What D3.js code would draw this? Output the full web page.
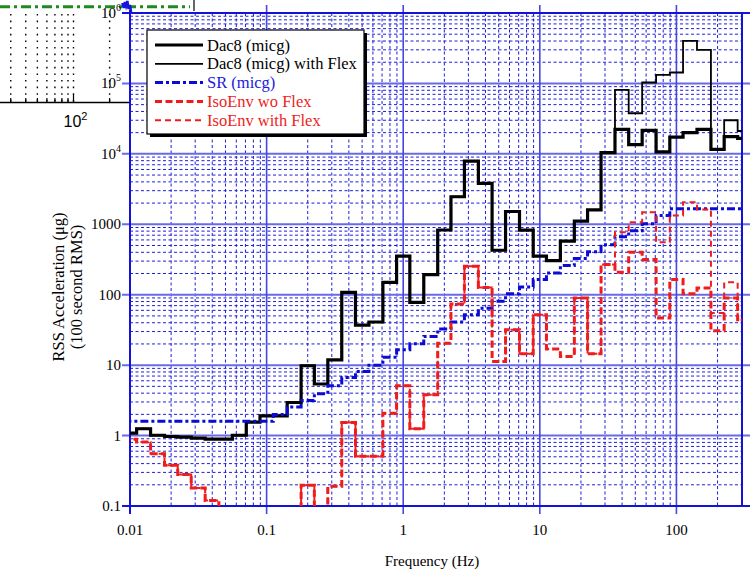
<!DOCTYPE html>
<html><head><meta charset="utf-8">
<script src="https://cdn.jsdelivr.net/npm/d3@7"></script>
<style>
html,body{margin:0;padding:0;background:#fff;}
svg{display:block;}
.serif{font-family:"Liberation Serif","Times New Roman",serif;}
</style></head>
<body><svg id="chart" width="750" height="571"></svg>
<script>
// 1/10-decade band centre frequencies (Hz)
const frequencies = [0.01,0.0125,0.016,0.02,0.025,0.0315,0.04,0.05,0.063,0.08,
  0.1,0.125,0.16,0.2,0.25,0.315,0.4,0.5,0.63,0.8,
  1,1.25,1.6,2,2.5,3.15,4,5,6.3,8,
  10,12.5,16,20,25,31.5,40,50,63,80,
  100,125,160,200,250,315];

// RSS acceleration per band (µg, 100 s RMS); 0.05 marks bands below the plot floor
const dac8 = [1.08,1.25,1.01,0.97,0.95,0.92,0.89,0.89,1.01,1.55,
  1.9,1.9,2.95,9.8,5.4,11.9,108,37,41,150,
  352,78,193,830,2460,7900,3800,428,1520,824,
  352,305,575,1107,1607,10400,22300,13500,21600,10700,
  17300,20000,22300,11600,17600,16600];
const dac8Flex = [1.08,1.25,1.01,0.97,0.95,0.92,0.89,0.89,1.01,1.55,
  1.9,1.9,2.95,9.8,5.4,11.9,108,37,41,150,
  352,78,193,830,2460,7900,3800,428,1520,824,
  352,305,575,1107,1607,10400,80800,37700,103000,132000,
  143000,402000,300000,11600,30000,21100];
const sr = [1.6,1.6,1.6,1.6,1.6,1.6,1.6,1.6,1.6,1.6,
  1.6,1.99,2.54,3.15,3.92,5.1,6.7,8.1,10.0,12.9,
  16.6,20.2,25.6,32.6,41,52,64,80.5,103,129,
  164,204,259,326,406,511,664,808,1016,1334,
  1660,1660,1660,1660,1660,1660];
const isoEnv = [0.89,0.81,0.55,0.38,0.28,0.18,0.12,0.05,0.05,0.05,
  0.05,0.05,0.05,0.197,0.05,0.19,1.53,0.51,0.51,2.08,
  5.1,1.25,3.8,20.5,74,253,127,11.3,31.9,14.5,
  52,17,13.3,90,14.5,268,208,401,316,46.8,
  164,103,125,30.9,90,44];
const isoEnvFlex = [0.89,0.81,0.55,0.38,0.28,0.18,0.12,0.05,0.05,0.05,
  0.05,0.05,0.05,0.197,0.05,0.19,1.53,0.51,0.51,2.08,
  5.1,1.25,3.8,20.5,74,253,127,11.3,31.9,14.5,
  52,17,13.3,90,14.5,268,772,1070,1486,556,
  1335,2060,1622,55,150,44];

const xTickValues = [0.01,0.1,1,10,100];
const xTickLabels = ["0.01","0.1","1","10","100"];
const yTickValues = [0.1,1,10,100,1000,1e4,1e5,1e6];
const yTickLabels = ["0.1","1","10","100","1000","10^4","10^5","10^6"];

const seriesNames = ["Dac8 (micg)","Dac8 (micg) with Flex","SR (micg)","IsoEnv wo Flex","IsoEnv with Flex"];

// fragment of a neighbouring figure peeking in at the top-left corner
const insetGridFreqs = [30,40,50,60,70,80,90,100,200];
const insetTailFreq = [255,262,268,274,281,288,295,302];
const insetTailLevel = [3,8,2,6,1,9,5,12];

const W = 750, H = 571;
const plot = {left:130, right:742, top:13, bottom:506};
const svg = d3.select("#chart");

// ---------- inset fragment ----------
const ix = d3.scaleLog().domain([100,1000]).range([73.5,193.5]);
const iy = d3.scaleLinear().domain([0,13]).range([0,13]);
const inset = svg.append("g");
inset.selectAll("line.igrid").data(insetGridFreqs).enter().append("line")
  .attr("x1",d=>ix(d)).attr("x2",d=>ix(d)).attr("y1",14).attr("y2",102)
  .attr("stroke","#000").attr("stroke-width",1.4).attr("stroke-dasharray","1.6,5");
inset.append("line").attr("x1",0).attr("x2",plot.left).attr("y1",102.5).attr("y2",102.5)
  .attr("stroke","#000").attr("stroke-width",1.5);
inset.selectAll("line.itick").data(insetGridFreqs).enter().append("line")
  .attr("x1",d=>ix(d)).attr("x2",d=>ix(d)).attr("y1",102.5).attr("y2",d=>d===100?94:98)
  .attr("stroke","#000").attr("stroke-width",1.2);
const il = inset.append("text").attr("x",ix(100)+2).attr("y",127)
  .attr("text-anchor","middle").attr("font-family","Liberation Sans, Arial, sans-serif")
  .attr("font-size",16).attr("fill","#000");
il.append("tspan").text("10");
il.append("tspan").attr("dy",-7).attr("font-size",11).text("2");
inset.append("line").attr("x1",0).attr("x2",190).attr("y1",6.7).attr("y2",6.7)
  .attr("stroke","#1d8a1d").attr("stroke-width",3).attr("stroke-dasharray","10,4,3,4");
inset.append("line").attr("x1",194).attr("x2",194).attr("y1",0).attr("y2",11)
  .attr("stroke","#000").attr("stroke-width",1.2);
inset.append("path")
  .attr("d",d3.line().x((d,i)=>ix(insetTailFreq[i])).y(d=>iy(d))(insetTailLevel))
  .attr("fill","none").attr("stroke","#1414e0").attr("stroke-width",2.5);

// ---------- main chart ----------
const x = d3.scaleLog().domain([0.01,302]).range([plot.left,plot.right]);
const y = d3.scaleLog().domain([0.1,1e6]).range([plot.bottom,plot.top]);

svg.append("rect").attr("x",plot.left).attr("y",plot.top)
  .attr("width",plot.right-plot.left).attr("height",plot.bottom-plot.top).attr("fill","#fff");

const grid = svg.append("g");
const minorX = [];
xTickValues.forEach(d=>{ for(let m=2;m<=9;m++){ const f=d*m; if(f<x.domain()[1]) minorX.push(f);} });
const minorY = [];
yTickValues.slice(0,-1).forEach(d=>{ for(let m=2;m<=9;m++) minorY.push(d*m); });

grid.selectAll("line.mx").data(minorX).enter().append("line")
  .attr("x1",d=>x(d)).attr("x2",d=>x(d)).attr("y1",plot.top).attr("y2",plot.bottom)
  .attr("stroke","#1e1ed8").attr("stroke-width",1).attr("stroke-dasharray","3,2.5");
grid.selectAll("line.my").data(minorY).enter().append("line")
  .attr("x1",plot.left).attr("x2",plot.right).attr("y1",d=>y(d)).attr("y2",d=>y(d))
  .attr("stroke","#1e1ed8").attr("stroke-width",1).attr("stroke-dasharray","3,2.5");

// major grid lines run past the frame as ticks
grid.selectAll("line.My").data(yTickValues.slice(1,-1)).enter().append("line")
  .attr("x1",plot.left-8).attr("x2",W).attr("y1",d=>y(d)).attr("y2",d=>y(d))
  .attr("stroke","#6a6ae6").attr("stroke-width",2);
grid.selectAll("line.Mx").data(xTickValues.slice(1)).enter().append("line")
  .attr("x1",d=>x(d)).attr("x2",d=>x(d)).attr("y1",plot.top-8).attr("y2",plot.bottom+8)
  .attr("stroke","#4646e0").attr("stroke-width",1.6);

// frame
const frame = svg.append("g").attr("stroke","#1212d8").attr("stroke-width",2);
frame.append("line").attr("x1",plot.left-8).attr("x2",W).attr("y1",plot.bottom).attr("y2",plot.bottom);
frame.append("line").attr("x1",plot.left-8).attr("x2",W).attr("y1",plot.top).attr("y2",plot.top);
frame.append("line").attr("x1",plot.left).attr("x2",plot.left).attr("y1",plot.top-3).attr("y2",plot.bottom+8);
frame.append("line").attr("x1",plot.right).attr("x2",plot.right).attr("y1",plot.top).attr("y2",plot.bottom);

// band step traces
svg.append("clipPath").attr("id","plotClip").append("rect")
  .attr("x",plot.left).attr("y",plot.top-2).attr("width",plot.right-plot.left).attr("height",plot.bottom-plot.top+2);

function bandEdges(i){
  const f = frequencies;
  const lo = i===0 ? f[0]/Math.sqrt(f[1]/f[0]) : Math.sqrt(f[i-1]*f[i]);
  const hi = i===f.length-1 ? f[i]*Math.sqrt(f[i]/f[i-1]) : Math.sqrt(f[i]*f[i+1]);
  return [lo,hi];
}
function stepPoints(values){
  const pts = [];
  values.forEach((v,i)=>{ const [lo,hi]=bandEdges(i); pts.push([lo,v],[hi,v]); });
  return pts;
}
const line = d3.line().x(d=>x(d[0])).y(d=>y(d[1]));
const series = [
  {values:dac8,      color:"#000",    width:3.2, dash:null},
  {values:dac8Flex,  color:"#000",    width:1.8, dash:null},
  {values:sr,        color:"#0b0bd6", width:3,   dash:"8,3,3,3"},
  {values:isoEnv,    color:"#f01c1c", width:3,   dash:"7,3.5"},
  {values:isoEnvFlex,color:"#f01c1c", width:2,   dash:"6,4"}
];
const traces = svg.append("g").attr("clip-path","url(#plotClip)");
// thick Dac8 drawn after the thin one so it sits on top where they coincide
[1,0,2,3,4].forEach(i=>{
  const s = series[i];
  traces.append("path").attr("d",line(stepPoints(s.values)))
    .attr("fill","none").attr("stroke",s.color).attr("stroke-width",s.width)
    .attr("stroke-dasharray",s.dash).attr("stroke-linejoin","miter");
});

// tick labels
const yl = svg.append("g").attr("class","serif").attr("font-size",15).attr("fill","#000");
yTickLabels.forEach((t,i)=>{
  const tx = yl.append("text").attr("x",plot.left-9).attr("y",y(yTickValues[i])+5).attr("text-anchor","end");
  if(t.includes("^")){
    const [b,e]=t.split("^");
    tx.append("tspan").text(b);
    tx.append("tspan").attr("dy",-7).attr("font-size",10).text(e);
  } else tx.text(t);
});
const xl = svg.append("g").attr("class","serif").attr("font-size",15).attr("fill","#000");
xTickLabels.forEach((t,i)=>{
  xl.append("text").attr("x",x(xTickValues[i])).attr("y",535).attr("text-anchor","middle").text(t);
});
svg.append("text").attr("class","serif").attr("font-size",15)
  .attr("x",432).attr("y",566).attr("text-anchor","middle").text("Frequency (Hz)");
const yt = svg.append("g").attr("class","serif").attr("font-size",16.5);
yt.append("text").attr("transform","translate(64,287) rotate(-90)").attr("text-anchor","middle").text("RSS Acceleration (μg)");
yt.append("text").attr("transform","translate(82,287) rotate(-90)").attr("text-anchor","middle").text("(100 second RMS)");

// legend
const lg = svg.append("g");
const box = {x:147,y:30,w:217,h:104};
lg.append("rect").attr("x",box.x+3).attr("y",box.y+3).attr("width",box.w).attr("height",box.h).attr("fill","#000");
lg.append("rect").attr("x",box.x).attr("y",box.y).attr("width",box.w).attr("height",box.h)
  .attr("fill","#fff").attr("stroke","#000").attr("stroke-width",1.2);
const legendColors = ["#000","#000","#1a1ae0","#f01c1c","#f01c1c"];
series.forEach((s,i)=>{
  const cy = 45 + i*18.8;
  lg.append("line").attr("x1",155).attr("x2",203).attr("y1",cy).attr("y2",cy)
    .attr("stroke",s.color).attr("stroke-width",s.width).attr("stroke-dasharray",s.dash);
  lg.append("text").attr("class","serif").attr("x",207).attr("y",cy+5.5).attr("font-size",16.5)
    .attr("fill",legendColors[i]).text(seriesNames[i]);
});
</script></body></html>
